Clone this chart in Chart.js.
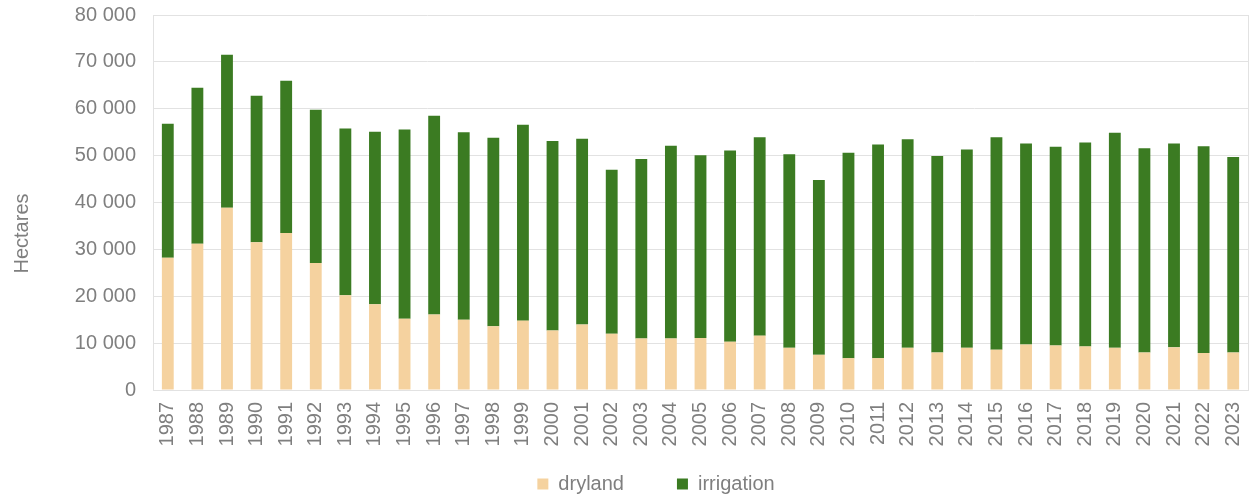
<!DOCTYPE html>
<html>
<head>
<meta charset="utf-8">
<script src="https://cdn.jsdelivr.net/npm/chart.js@4"></script>
<style>
  html, body { margin: 0; padding: 0; background: #fff; }
  #wrap { width: 1254px; height: 496px; }
</style>
</head>
<body>
<div id="wrap"><canvas id="barChart" width="1254" height="496"></canvas></div>
<script>
// datos (hectáreas)
var years = ['1987','1988','1989','1990','1991','1992','1993','1994','1995','1996','1997','1998','1999','2000','2001','2002','2003','2004','2005','2006','2007','2008','2009','2010','2011','2012','2013','2014','2015','2016','2017','2018','2019','2020','2021','2022','2023'];
var dryland = [28200, 31200, 38900, 31500, 33500, 27100, 20200, 18300, 15200, 16100, 15000, 13600, 14800, 12700, 14000, 12000, 11000, 11000, 11100, 10300, 11600, 9000, 7500, 6800, 6800, 9000, 8000, 9000, 8600, 9700, 9500, 9300, 9000, 8000, 9100, 7900, 8000];
var irrigation = [28600, 33300, 32600, 31300, 32500, 32700, 35600, 36800, 40400, 42400, 40000, 40200, 41800, 40400, 39600, 35000, 38300, 41100, 39000, 40800, 42300, 41300, 37300, 43800, 45600, 44500, 41900, 42300, 45300, 42900, 42400, 43500, 45900, 43600, 43500, 44100, 41700];
var yTicks = [0, 10000, 20000, 30000, 40000, 50000, 60000, 70000, 80000];
var yTitle = 'Hectares';

var textGray = '#7f7f7f';
var gridGray = '#e2e2e2';
var fontFam = "'Liberation Sans', Arial, sans-serif";

// borde derecho, título del eje Y y posición de la leyenda
var frame = {
    id: 'frame',
    afterLayout: function(chart) {
        var lg = chart.legend;
        lg.left += 64;
        lg.top -= 30;
        lg.bottom -= 30;
    },
    afterDraw: function(chart) {
        var a = chart.chartArea, ctx = chart.ctx;
        ctx.save();
        ctx.strokeStyle = gridGray;
        ctx.lineWidth = 1;
        ctx.beginPath();
        ctx.moveTo(Math.round(a.right) + 0.5, a.top);
        ctx.lineTo(Math.round(a.right) + 0.5, a.bottom);
        ctx.stroke();
        // título del eje Y, algo más abajo que el centro del eje
        ctx.translate(22, (a.top + a.bottom) / 2 + 31);
        ctx.rotate(-Math.PI / 2);
        ctx.fillStyle = textGray;
        ctx.font = '20px ' + fontFam;
        ctx.textAlign = 'center';
        ctx.textBaseline = 'middle';
        ctx.fillText(yTitle, 0, 0);
        ctx.restore();
    }
};

function fmt(v) {
    return String(v).replace(/\B(?=(\d{3})+(?!\d))/g, ' ');
}

var config = {
    type: 'bar',
    data: {
        labels: years,
        datasets: [{
            label: 'dryland',
            data: dryland,
            backgroundColor: '#f5d29f',
            barPercentage: 0.8,
            categoryPercentage: 0.5
        }, {
            label: 'irrigation',
            data: irrigation,
            backgroundColor: '#3b7b22',
            barPercentage: 0.8,
            categoryPercentage: 0.5
        }]
    },
    options: {
        responsive: false,
        animation: false,
        devicePixelRatio: 1,
        layout: { padding: { top: 15, right: 6, left: 0, bottom: -38 } },
        font: { family: fontFam },
        plugins: {
            tooltip: { enabled: false },
            legend: {
                position: 'bottom',
                labels: {
                    color: textGray,
                    font: { size: 20, family: fontFam },
                    boxWidth: 11,
                    boxHeight: 11,
                    padding: 53
                }
            }
        },
        scales: {
            x: {
                stacked: true,
                grid: { display: false, drawTicks: false },
                border: { display: true, color: gridGray },
                ticks: {
                    color: textGray,
                    minRotation: 90,
                    maxRotation: 90,
                    autoSkip: false,
                    padding: 12,
                    font: { size: 20, family: fontFam }
                },
                afterFit: function(scale) {
                    scale.height = 61;
                    scale.paddingLeft = 0;
                    scale.paddingRight = 0;
                }
            },
            y: {
                stacked: true,
                min: 0,
                max: 80000,
                afterBuildTicks: function(scale) {
                    scale.ticks = yTicks.map(function(v) { return { value: v }; });
                },
                grid: { color: gridGray, drawTicks: false },
                border: { display: true, color: gridGray },
                ticks: {
                    color: textGray,
                    padding: 17,
                    font: { size: 20, family: fontFam },
                    callback: function(v) { return fmt(v); }
                },
                afterFit: function(scale) {
                    scale.width = 153;
                    scale.paddingTop = 0;
                    scale.paddingBottom = 0;
                }
            }
        }
    },
    plugins: [frame]
};

new Chart(document.getElementById('barChart'), config);
</script>
</body>
</html>
